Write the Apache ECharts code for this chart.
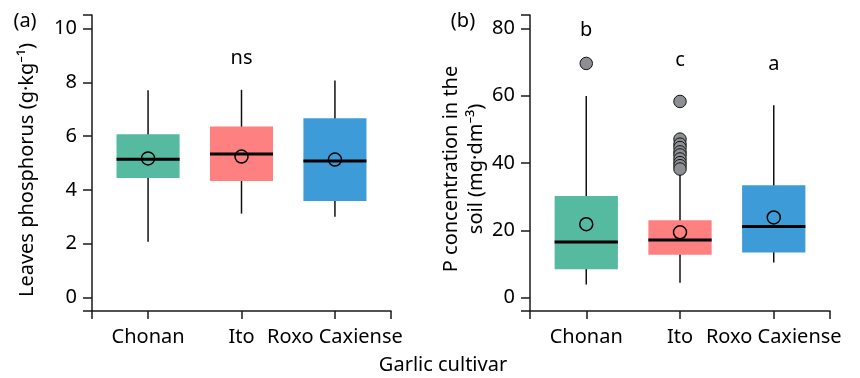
<!DOCTYPE html>
<html>
<head>
<meta charset="utf-8">
<script src="https://cdn.jsdelivr.net/npm/echarts@6/dist/echarts.min.js"></script>
<style>html,body{margin:0;padding:0;background:#fff}#c{width:860px;height:378px}</style>
</head>
<body>
<div id="c"></div>
<script>
// ---- data ----
const categories = ['Chonan', 'Ito', 'Roxo Caxiense'];
// [min, Q1, median, Q3, max]
const leafStats = [
  [2.07, 4.44, 5.14, 6.07, 7.70],
  [3.12, 4.33, 5.33, 6.36, 7.72],
  [3.00, 3.59, 5.07, 6.66, 8.07]
];
const leafMeans = [5.17, 5.24, 5.13];
const soilStats = [
  [3.9, 8.4, 16.5, 30.2, 59.9],
  [4.4, 12.7, 17.1, 23.0, 36.6],
  [10.4, 13.4, 21.1, 33.4, 57.2]
];
const soilMeans = [21.8, 19.4, 23.8];
// [category index, value]
const soilOutliers = [
  [0, 69.6],
  [1, 58.3], [1, 47.1], [1, 45.6], [1, 44.6], [1, 43.3], [1, 42.4],
  [1, 41.2], [1, 40.1], [1, 39.2], [1, 38.2]
];
const leafLetters = ['', 'ns', ''];
const leafLetterY = [null, 8.88, null];
const soilLetters = ['b', 'c', 'a'];
const soilLetterY = [79.4, 70.6, 69.2];
const leafTicks = [0, 2, 4, 6, 8, 10];
const soilTicks = [0, 20, 40, 60, 80];

const colors = ['#55BAA0', '#FF8080', '#3D9CD8'];
const FONT = 'Noto Sans';
const FS = 20;
const TXT = '#000';
const AX = '#1a1a1a';
const BOX_HALF = 0.3375;

function boxData(stats) {
  return stats.map((s, i) => [i + 1].concat(s));
}
function pointData(vals) {
  return vals.map((v, i) => [i + 1, v]);
}
function letterData(letters, ys) {
  const out = [];
  letters.forEach((t, i) => { if (t) out.push({ name: t, value: [i + 1, ys[i]] }); });
  return out;
}

function renderBox(params, api) {
  const x = api.value(0);
  const lo = api.coord([x, api.value(1)]);
  const q1 = api.coord([x, api.value(2)]);
  const med = api.coord([x, api.value(3)]);
  const q3 = api.coord([x, api.value(4)]);
  const hi = api.coord([x, api.value(5)]);
  const half = api.size([BOX_HALF, 0])[0];
  const color = colors[params.dataIndex];
  return {
    type: 'group',
    children: [
      { type: 'line', shape: { x1: lo[0], y1: lo[1], x2: hi[0], y2: hi[1] }, style: { stroke: '#111', lineWidth: 1.5 } },
      { type: 'rect', shape: { x: q3[0] - half, y: q3[1], width: 2 * half, height: q1[1] - q3[1] }, style: { fill: color } },
      { type: 'line', shape: { x1: med[0] - half, y1: med[1], x2: med[0] + half, y2: med[1] }, style: { stroke: '#000', lineWidth: 3 } }
    ]
  };
}

function xAxisDef(gi) {
  return {
    type: 'value', gridIndex: gi, min: 0.4, max: 3.6,
    axisLine: { show: true, onZero: false, lineStyle: { color: AX, width: 1.5 } },
    axisTick: { show: true, customValues: [0.4, 1, 2, 3, 3.6], length: 8, lineStyle: { color: AX, width: 1.5 } },
    axisLabel: {
      customValues: [1, 2, 3], margin: 16,
      formatter: v => categories[Math.round(v) - 1],
      fontFamily: FONT, fontSize: FS, color: TXT
    },
    splitLine: { show: false }
  };
}
function yAxisDef(gi, min, max, ticks) {
  return {
    type: 'value', gridIndex: gi, min: min, max: max,
    axisLine: { show: true, onZero: false, lineStyle: { color: AX, width: 1.5 } },
    axisTick: { show: true, customValues: [min].concat(ticks, [max]), length: 9, lineStyle: { color: AX, width: 1.5 } },
    axisLabel: { customValues: ticks, margin: 15, fontFamily: FONT, fontSize: FS, color: TXT },
    splitLine: { show: false }
  };
}

function seriesFor(idx, stats, means, letters, letterY) {
  return [
    {
      type: 'custom', xAxisIndex: idx, yAxisIndex: idx,
      renderItem: renderBox,
      encode: { x: 0, y: [1, 2, 3, 4, 5] },
      data: boxData(stats), z: 2
    },
    {
      type: 'scatter', xAxisIndex: idx, yAxisIndex: idx,
      symbol: 'circle', symbolSize: 13,
      itemStyle: { color: 'rgba(0,0,0,0)', borderColor: '#000', borderWidth: 1.5, opacity: 1 },
      data: pointData(means), z: 4
    },
    {
      type: 'scatter', xAxisIndex: idx, yAxisIndex: idx,
      symbolSize: 0,
      itemStyle: { opacity: 1 },
      label: { show: true, position: 'inside', formatter: '{b}', fontFamily: FONT, fontSize: FS, color: TXT, opacity: 1 },
      data: letterData(letters, letterY), z: 5
    }
  ];
}

const chart = echarts.init(document.getElementById('c'), null, { renderer: 'canvas' });
const font = FS + 'px "' + FONT + '"';
const option = {
  animation: false,
  backgroundColor: '#fff',
  grid: [
    { left: 92, right: 469, top: 15, bottom: 67, outerBoundsMode: 'none' },
    { left: 530, right: 30, top: 15, bottom: 67, outerBoundsMode: 'none' }
  ],
  xAxis: [xAxisDef(0), xAxisDef(1)],
  yAxis: [yAxisDef(0, -0.5, 10.5, leafTicks), yAxisDef(1, -4, 84, soilTicks)],
  series: seriesFor(0, leafStats, leafMeans, leafLetters, leafLetterY)
    .concat(seriesFor(1, soilStats, soilMeans, soilLetters, soilLetterY))
    .concat([{
      type: 'scatter', xAxisIndex: 1, yAxisIndex: 1,
      symbol: 'circle', symbolSize: 12.5,
      itemStyle: { color: '#8E8F93', borderColor: '#111', borderWidth: 1, opacity: 1 },
      data: soilOutliers.map(o => [o[0] + 1, o[1]]), z: 3
    }]),
  graphic: [
    { type: 'text', x: 25, y: 21, style: { text: '(a)', font: font, fill: TXT, align: 'center', verticalAlign: 'middle' } },
    { type: 'text', x: 463, y: 21, style: { text: '(b)', font: font, fill: TXT, align: 'center', verticalAlign: 'middle' } },
    { type: 'text', x: 27, y: 170, rotation: Math.PI / 2, style: { text: 'Leaves phosphorus (g·kg⁻¹)', font: font, fill: TXT, align: 'center', verticalAlign: 'middle' } },
    { type: 'text', x: 464, y: 169, rotation: Math.PI / 2, style: { text: 'P concentration in the\nsoil (mg·dm⁻³)', font: font, lineHeight: 25, fill: TXT, align: 'center', verticalAlign: 'middle' } },
    { type: 'text', x: 443, y: 365, style: { text: 'Garlic cultivar', font: font, fill: TXT, align: 'center', verticalAlign: 'middle' } }
  ]
};
chart.setOption(option);
</script>
</body>
</html>
